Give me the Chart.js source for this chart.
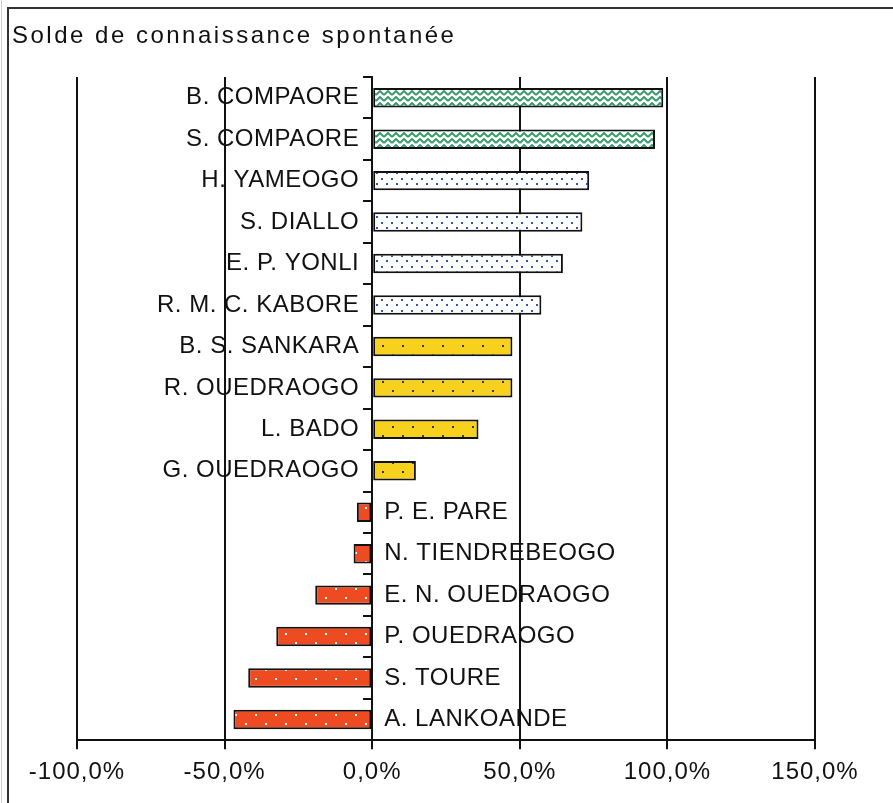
<!DOCTYPE html>
<html>
<head>
<meta charset="utf-8">
<script src="https://cdn.jsdelivr.net/npm/chart.js@4.4.1/dist/chart.umd.min.js"></script>
<style>
  body { margin: 0; background: #fff; }
  #wrap { width: 893px; height: 803px; }
</style>
</head>
<body>
<div id="wrap"><canvas id="solde"></canvas></div>
<script>
var titre = "Solde de connaissance spontanée";

var noms = ["B. COMPAORE", "S. COMPAORE", "H. YAMEOGO", "S. DIALLO", "E. P. YONLI",
    "R. M. C. KABORE", "B. S. SANKARA", "R. OUEDRAOGO", "L. BADO", "G. OUEDRAOGO",
    "P. E. PARE", "N. TIENDREBEOGO", "E. N. OUEDRAOGO", "P. OUEDRAOGO", "S. TOURE", "A. LANKOANDE"];

// solde en fraction (0.986 = 98,6%)
var soldes = [0.986, 0.958, 0.735, 0.712, 0.646, 0.573, 0.475, 0.475, 0.36, 0.148,
    -0.052, -0.063, -0.193, -0.325, -0.42, -0.47];

// groupe de chaque nom (motif du remplissage)
var groupes = [0, 0, 1, 1, 1, 1, 2, 2, 2, 2, 3, 3, 3, 3, 3, 3];

var xTicks = [-1, -0.5, 0, 0.5, 1, 1.5];

var police = '"Liberation Sans", Arial, sans-serif';

function motif(w, h, fond, dessin) {
    var c = document.createElement('canvas');
    c.width = w;
    c.height = h;
    var g = c.getContext('2d');
    g.fillStyle = fond;
    g.fillRect(0, 0, w, h);
    dessin(g);
    return document.getElementById('solde').getContext('2d').createPattern(c, 'repeat');
}

function points(g, couleur, pts) {
    g.fillStyle = couleur;
    pts.forEach(function (p) {
        g.fillRect(p[0], p[1], 2, 2);
    });
}

var motifs = [
    // vert zigzag
    motif(8, 6, '#ffffff', function (g) {
        g.strokeStyle = '#3c9c6e';
        g.lineWidth = 2;
        g.beginPath();
        g.moveTo(0, 5);
        g.lineTo(4, 1);
        g.lineTo(8, 5);
        g.stroke();
    }),
    // points bleus
    motif(10, 11, '#ffffff', function (g) {
        points(g, '#2b59b0', [[1, 2], [6, 7]]);
    }),
    // jaune, points sombres
    motif(20, 18, '#f7d11c', function (g) {
        points(g, '#34345a', [[2, 3], [12, 12]]);
    }),
    // rouge, points blancs
    motif(20, 18, '#ee4b22', function (g) {
        points(g, '#ffffff', [[5, 3], [15, 12]]);
    })
];

var couleurs = groupes.map(function (g) { return motifs[g]; });

var decor = {
    id: 'decor',
    beforeDraw: function (chart) {
        var ctx = chart.ctx;
        ctx.save();
        ctx.strokeStyle = '#d0d0d0';
        ctx.lineWidth = 1;
        ctx.beginPath();
        ctx.moveTo(1.5, 803);
        ctx.lineTo(1.5, 0);
        ctx.stroke();
        ctx.strokeStyle = '#333';
        ctx.lineWidth = 2;
        ctx.beginPath();
        ctx.moveTo(8, 803);
        ctx.lineTo(8, 8);
        ctx.lineTo(893, 8);
        ctx.stroke();
        ctx.restore();
        ctx.letterSpacing = '1px';
    },
    afterDatasetsDraw: function (chart) {
        var ctx = chart.ctx;
        var sx = chart.scales.x, sy = chart.scales.y;
        var x0 = sx.getPixelForValue(0);
        ctx.save();
        ctx.fillStyle = '#111';
        ctx.textBaseline = 'middle';
        ctx.font = '24px ' + police;
        ctx.letterSpacing = '0.5px';
        noms.forEach(function (nom, i) {
            var y = sy.getPixelForValue(i);
            if (soldes[i] >= 0) {
                ctx.textAlign = 'right';
                ctx.fillText(nom, x0 - 13, y);
            } else {
                ctx.textAlign = 'left';
                ctx.fillText(nom, x0 + 12, y);
            }
        });
        ctx.font = '24px ' + police;
        ctx.letterSpacing = '2.5px';
        ctx.textAlign = 'left';
        ctx.fillText(titre, 12, 36);
        ctx.restore();
    }
};

new Chart('solde', {
    type: 'bar',
    data: {
        labels: noms,
        datasets: [{
            data: soldes,
            backgroundColor: couleurs,
            borderColor: '#111',
            borderWidth: 2,
            borderSkipped: false,
            categoryPercentage: 1,
            barPercentage: 0.47
        }]
    },
    options: {
        indexAxis: 'y',
        responsive: true,
        maintainAspectRatio: false,
        animation: false,
        events: [],
        layout: { padding: { left: 77, right: 78, top: 77, bottom: 7 } },
        plugins: {
            legend: { display: false },
            title: { display: false },
            tooltip: { enabled: false }
        },
        scales: {
            x: {
                min: -1,
                max: 1.5,
                afterBuildTicks: function (axis) {
                    axis.ticks = xTicks.map(function (v) { return { value: v }; });
                },
                grid: { color: '#111', lineWidth: 2, tickLength: 9 },
                border: { color: '#111', width: 2 },
                ticks: {
                    color: '#111',
                    font: { family: police, size: 24 },
                    padding: 9,
                    maxRotation: 0,
                    callback: function (v) {
                        return (v * 100).toFixed(1).replace('.', ',') + '%';
                    }
                }
            },
            y: {
                position: { x: 0 },
                z: 1,
                offset: true,
                grid: {
                    offset: true,
                    drawOnChartArea: false,
                    color: '#111',
                    lineWidth: 2,
                    tickLength: 8
                },
                border: { color: '#111', width: 2 },
                ticks: { display: false }
            }
        }
    },
    plugins: [decor]
});
</script>
</body>
</html>
